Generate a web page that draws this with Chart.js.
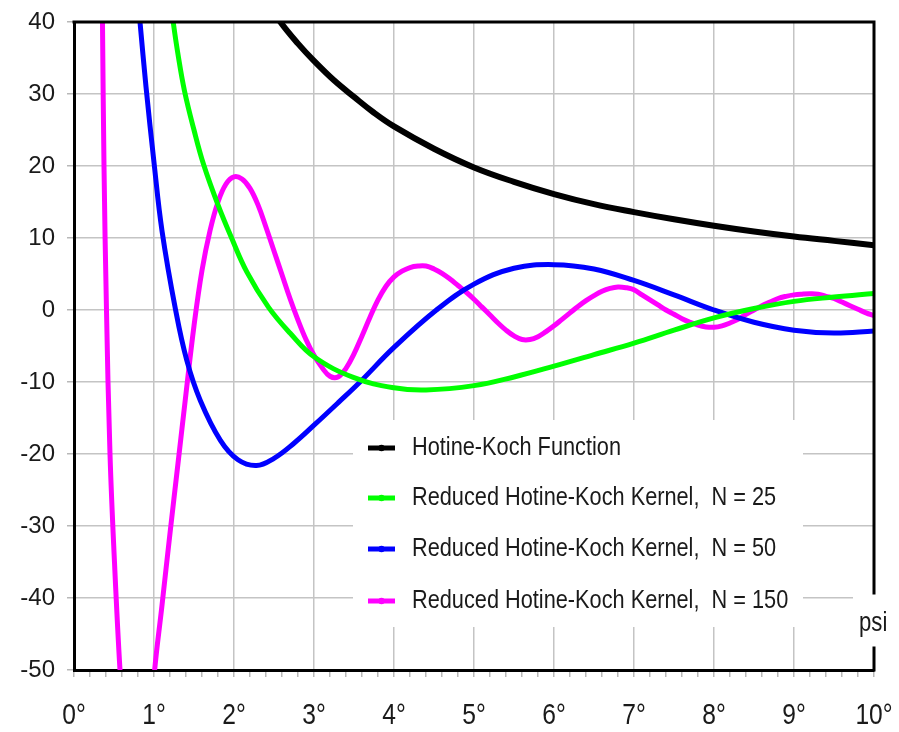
<!DOCTYPE html>
<html>
<head>
<meta charset="utf-8">
<title>Hotine-Koch kernels</title>
<script src="https://cdn.jsdelivr.net/npm/chart.js@4.4.1/dist/chart.umd.min.js"></script>
<style>
  html, body { margin: 0; padding: 0; background: #fff; }
  canvas { display: block; }
</style>
</head>
<body>
<canvas id="c" width="899" height="732"></canvas>
<script>
// Spherical distance psi (degrees) and function values for each curve
const psiHK  = [2.5, 2.58, 2.8, 3.0, 3.25, 3.5, 3.75, 4.0, 4.5, 5.0, 5.5, 6.0, 6.5, 7.0, 7.5, 8.0, 8.5, 9.0, 9.5, 10.0];
const valHK  = [41.6, 40.0, 37.0, 34.6, 31.9, 29.6, 27.4, 25.5, 22.4, 19.8, 17.8, 16.1, 14.7, 13.6, 12.6, 11.7, 10.9, 10.2, 9.6, 9.0];

const psi25  = [1.2, 1.24, 1.3, 1.38, 1.5, 1.62, 1.8, 1.97, 2.16, 2.43, 2.7, 3.0, 3.5, 4.0, 4.4, 5.0, 5.5, 6.0, 6.5, 7.0, 7.5, 8.0, 8.5, 9.0, 9.5, 10.0];
const val25  = [43.5, 40, 35.5, 30.5, 25.0, 20.2, 14.6, 10.0, 5.3, 0.4, -3.2, -6.5, -9.4, -10.8, -11.1, -10.5, -9.3, -7.8, -6.2, -4.6, -2.8, -1.1, 0.2, 1.2, 1.8, 2.3];

const psi50  = [0.79, 0.825, 0.9, 1.0, 1.1, 1.27, 1.41, 1.58, 1.83, 2.05, 2.28, 2.5, 2.75, 3.0, 3.3, 3.575, 4.0, 4.53, 5.0, 5.5, 6.0, 6.5, 7.0, 7.5, 8.0, 8.5, 9.0, 9.5, 10.0];
const val50  = [44, 40, 31, 20.5, 11, 0, -7.0, -12.6, -18.1, -20.8, -21.6, -20.6, -18.5, -16.0, -12.9, -10.0, -5.2, 0, 3.6, 5.8, 6.3, 5.7, 4.1, 2.1, 0, -1.7, -2.8, -3.2, -2.9];

const psi150 = [0.345, 0.356, 0.375, 0.406, 0.45, 0.506, 0.575, 0.65, 0.79, 0.93,
  1.0, 1.1, 1.2, 1.3, 1.4, 1.5, 1.6, 1.7, 1.8, 1.9,
  2.0, 2.1, 2.2, 2.3, 2.4, 2.5, 2.6, 2.7, 2.8, 2.9,
  3.0, 3.1, 3.2, 3.3, 3.4, 3.5, 3.6, 3.7, 3.8, 3.9,
  4.0, 4.1, 4.2, 4.3, 4.4, 4.5, 4.6, 4.7, 4.8, 4.9,
  5.0, 5.1, 5.2, 5.3, 5.4, 5.5, 5.6, 5.7, 5.8, 5.9,
  6.0, 6.1, 6.2, 6.3, 6.4, 6.5, 6.6, 6.7, 6.8, 6.9,
  7.0, 7.1, 7.2, 7.3, 7.4, 7.5, 7.6, 7.7, 7.8, 7.9,
  8.0, 8.1, 8.2, 8.3, 8.4, 8.5, 8.6, 8.7, 8.8, 8.9,
  9.0, 9.1, 9.2, 9.3, 9.4, 9.5, 9.6, 9.7, 9.8, 9.9, 10.0];
const val150 = [52, 40, 20, 0, -20, -35, -50, -62, -72, -63,
  -51, -41, -31, -21.3, -11.6, -2.2, 5.5, 11.0, 15.0, 17.5,
  18.5, 18.2, 16.9, 14.6, 11.5, 8.2, 4.9, 1.6, -1.4, -4.1,
  -6.3, -8.0, -9.2, -9.3, -8.1, -6.1, -3.6, -1.0, 1.4, 3.3,
  4.6, 5.4, 5.9, 6.1, 6.1, 5.7, 5.1, 4.3, 3.4, 2.5,
  1.5, 0.4, -0.7, -1.8, -2.8, -3.6, -4.1, -4.1, -3.7, -3.0,
  -2.2, -1.3, -0.4, 0.5, 1.3, 2.0, 2.6, 3.0, 3.2, 3.1,
  2.8, 2.1, 1.4, 0.7, 0.0, -0.6, -1.2, -1.7, -2.1, -2.35,
  -2.4, -2.2, -1.8, -1.3, -0.6, 0.0, 0.6, 1.1, 1.6, 1.9,
  2.1, 2.2, 2.25, 2.2, 1.9, 1.6, 1.1, 0.6, 0.1, -0.4, -0.8];

const seriesLabels = [
  'Hotine-Koch Function',
  'Reduced Hotine-Koch Kernel,  N = 25',
  'Reduced Hotine-Koch Kernel,  N = 50',
  'Reduced Hotine-Koch Kernel,  N = 150'
];
const seriesColors = ['#000000', '#00ff00', '#0000ff', '#ff00ff'];

const xTickMin = 0, xTickMax = 10, xMinorStep = 0.2;
const yTickMin = -50, yTickMax = 40, yStep = 10;
const xUnitLabel = 'psi';

function pairs(xs, ys) { return xs.map((x, i) => ({ x: x, y: ys[i] })); }

// Narrow sans: use the installed narrow face when present, otherwise squeeze the regular face
const probe = document.createElement('canvas').getContext('2d');
function widthOf(font) { probe.font = font; return probe.measureText('Hotine-Koch Kernel 0123456789').width; }
const hasNarrow = Math.abs(widthOf("40px 'Liberation Sans Narrow', monospace") - widthOf('40px monospace')) > 0.5;
const NARROW = hasNarrow ? "'Liberation Sans Narrow'" : "'Liberation Sans'";
const SQUEEZE = hasNarrow ? 1 : 0.82;

function narrowText(ctx, text, x, y, size, align) {
  ctx.save();
  ctx.font = size + 'px ' + NARROW;
  ctx.textBaseline = 'middle';
  ctx.textAlign = 'left';
  const w = ctx.measureText(text).width * SQUEEZE;
  let x0 = x;
  if (align === 'center') x0 = x - w / 2;
  else if (align === 'right') x0 = x - w;
  ctx.translate(x0, y);
  ctx.scale(SQUEEZE, 1);
  ctx.fillText(text, 0, 0);
  ctx.restore();
}

const isWhole = v => Math.abs(v - Math.round(v)) < 1e-6;

// Degree labels on the psi axis, frame (top / right edges with a break for the unit label),
// legend panel and unit label
const decorations = {
  id: 'decorations',
  afterDatasetsDraw(chart) {
    const ctx = chart.ctx;
    const a = chart.chartArea;
    const xs = chart.scales.x;
    ctx.save();

    // degree labels under the axis
    ctx.fillStyle = '#1a1a1a';
    xs.ticks.forEach(t => {
      if (!isWhole(t.value)) return;
      narrowText(ctx, Math.round(t.value) + '°', xs.getPixelForValue(t.value), 716, 30, 'center');
    });

    // legend panel
    const box = { l: 353, t: 420, r: 803, b: 627 };
    ctx.fillStyle = '#ffffff';
    ctx.fillRect(box.l, box.t, box.r - box.l, box.b - box.t);
    const rowY = [448, 498, 549, 601];
    chart.data.datasets.forEach((ds, i) => {
      const y = rowY[i];
      ctx.strokeStyle = ds.borderColor;
      ctx.lineWidth = 5;
      ctx.lineCap = 'butt';
      ctx.beginPath();
      ctx.moveTo(368, y);
      ctx.lineTo(395, y);
      ctx.stroke();
      ctx.fillStyle = ds.borderColor;
      ctx.beginPath();
      ctx.arc(381.5, y, 3.2, 0, Math.PI * 2);
      ctx.fill();
      ctx.fillStyle = '#1a1a1a';
      narrowText(ctx, ds.label, 412, y, 26.5, 'left');
    });

    // unit label on the right edge
    ctx.fillStyle = '#ffffff';
    ctx.fillRect(a.right - 21, 593, 46, 55);
    ctx.fillStyle = '#1a1a1a';
    narrowText(ctx, xUnitLabel, a.right - 15, 624, 27, 'left');

    // top and right edges
    ctx.strokeStyle = '#000';
    ctx.lineWidth = 3;
    ctx.lineCap = 'square';
    ctx.beginPath();
    ctx.moveTo(a.left, a.top);
    ctx.lineTo(a.right, a.top);
    ctx.lineTo(a.right, 593);
    ctx.moveTo(a.right, 648);
    ctx.lineTo(a.right, a.bottom);
    ctx.stroke();
    ctx.restore();
  }
};

const datasets = [
  [psiHK, valHK], [psi25, val25], [psi50, val50], [psi150, val150]
].map((s, i) => ({
  label: seriesLabels[i],
  data: pairs(s[0], s[1]),
  borderColor: seriesColors[i],
  backgroundColor: seriesColors[i],
  borderWidth: i === 0 ? 6 : 5,
  pointRadius: 0,
  tension: 0.4,
  clip: 0,
  fill: false
}));

const chart = new Chart(document.getElementById('c'), {
  type: 'line',
  data: { datasets: datasets },
  plugins: [decorations],
  options: {
    responsive: false,
    animation: false,
    devicePixelRatio: 1,
    layout: { padding: { left: 0, right: 25, top: 22, bottom: 0 } },
    plugins: { legend: { display: false }, tooltip: { enabled: false } },
    scales: {
      x: {
        type: 'linear',
        min: xTickMin,
        max: xTickMax,
        afterFit: s => { s.height = 62; s.paddingLeft = 0; s.paddingRight = 0; },
        afterBuildTicks: s => {
          const t = [];
          for (let k = 0; k <= Math.round((xTickMax - xTickMin) / xMinorStep); k++) {
            t.push({ value: +(xTickMin + k * xMinorStep).toFixed(4) });
          }
          s.ticks = t;
        },
        ticks: { display: false, autoSkip: false },
        grid: {
          color: c => (c.tick && isWhole(c.tick.value)) ? '#c4c4c4' : 'rgba(0,0,0,0)',
          lineWidth: 1.5,
          tickColor: '#b8b8b8',
          tickLength: 7
        },
        border: { display: true, color: '#000', width: 3 }
      },
      y: {
        type: 'linear',
        min: yTickMin,
        max: yTickMax,
        afterFit: s => { s.width = 74; s.paddingTop = 0; s.paddingBottom = 0; },
        ticks: {
          stepSize: yStep,
          padding: 12,
          color: '#1a1a1a',
          font: { family: 'Liberation Sans', size: 24 }
        },
        grid: {
          color: '#c4c4c4',
          lineWidth: 1.5,
          tickColor: '#b8b8b8',
          tickLength: 7
        },
        border: { display: true, color: '#000', width: 3 }
      }
    }
  }
});
</script>
</body>
</html>
